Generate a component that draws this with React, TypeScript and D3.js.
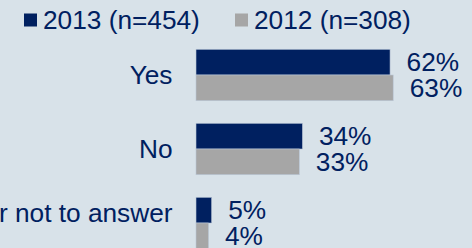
import React from "react";
import * as d3 from "d3";

const categories = ["Yes", "No", "Prefer not to answer"];
const seriesNames = ["2013 (n=454)", "2012 (n=308)"];
const series2013 = [62, 34, 5];
const series2012 = [63, 33, 4];

const W = 472;
const H = 248;
const NAVY = "#002060";
const GRAY = "#a6a6a6";
const BG = "#d8e2e9";
const FONT = "'Liberation Sans', Arial, sans-serif";
const FS = 25;
const SX = 1.05;

export default function App() {
  const x = d3.scaleLinear().domain([0, 100]).range([196, 509]);
  const y = d3
    .scaleBand<string>()
    .domain(categories)
    .range([38, 260])
    .paddingInner(0.305)
    .paddingOuter(0.1525);
  const inner = d3
    .scaleBand<string>()
    .domain(seriesNames)
    .range([0, y.bandwidth()])
    .padding(0);
  const colors = d3.scaleOrdinal<string, string>().domain(seriesNames).range([NAVY, GRAY]);
  const values = [series2013, series2012];

  const txt = (
    key: string,
    tx: number,
    ty: number,
    s: string,
    anchor: "start" | "end" = "start"
  ) => (
    <g key={key} transform={`translate(${tx},${ty}) scale(${SX},1)`}>
      <text x={0} y={0} fontSize={FS} fontFamily={FONT} fill={NAVY} textAnchor={anchor}>
        {s}
      </text>
    </g>
  );

  const legendX = [24, 235];

  return (
    <svg
      width={W}
      height={H}
      style={{ position: "absolute", left: 0, top: 0, display: "block" }}
    >
      <rect x={0} y={0} width={W} height={H} fill={BG} />
      {seriesNames.map((s, i) => (
        <g key={s}>
          <rect x={legendX[i]} y={13.5} width={13} height={13} fill={colors(s)} />
          {txt("lt" + i, legendX[i] + 19, 29, s)}
        </g>
      ))}
      {categories.map((c, ci) => {
        const y0 = y(c)!;
        const mid = y0 + y.bandwidth() / 2;
        const labelY = ci === categories.length - 1 ? mid - 1.3 : mid + 9;
        return (
          <g key={c}>
            {txt("cl" + ci, 172.5, labelY, c, "end")}
            {seriesNames.map((s, si) => {
              const v = values[si][ci];
              const by = y0 + inner(s)!;
              const bh = inner.bandwidth();
              return (
                <g key={s}>
                  <rect
                    x={x(0)}
                    y={by}
                    width={x(v) - x(0)}
                    height={bh}
                    fill={colors(s)}
                    stroke="#b9c6d6"
                    strokeWidth={0.6}
                  />
                  {txt("v" + ci + si, x(v) + 16.5, by + bh / 2 + 9, `${v}%`)}
                </g>
              );
            })}
          </g>
        );
      })}
    </svg>
  );
}
